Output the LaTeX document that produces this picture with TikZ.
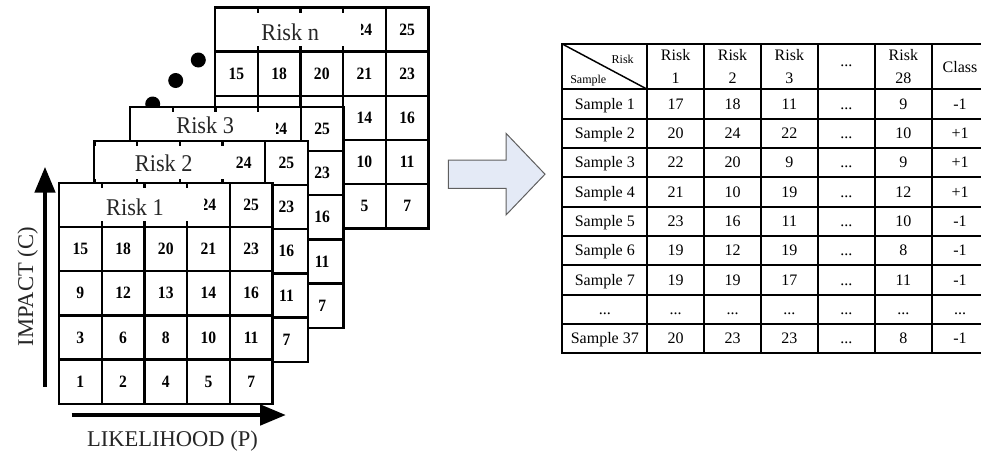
\documentclass[tikz,border=0pt]{standalone}
\usepackage{fontspec}
\usepackage{graphicx}
\setmainfont{Liberation Serif}
\usetikzlibrary{arrows.meta}

\definecolor{arrowfill}{RGB}{228,234,246}
\definecolor{arrowedge}{RGB}{95,95,95}

% cell size of the risk cards
\newcommand\mcw{42.7}
\newcommand\mch{44.2}
\newcommand\tdots{...}
% slightly condensed lettering used on the cards
\newcommand\narrow[2]{\scalebox{#1}[1]{#2}}

\tikzset{
  gridline/.style={line width=1.8pt, line cap=rect},
  cellnum/.style={font=\fontsize{13}{15}\selectfont\bfseries, inner sep=0pt},
  risklabel/.style={font=\fontsize{18}{21}\selectfont, text=black!85, inner sep=0pt, anchor=base},
  axislabel/.style={font=\fontsize{16.9}{20}\selectfont, text=black!85, inner sep=0pt, anchor=base},
  axisarrow/.style={line width=3.6pt, -{Triangle[length=19.5pt, width=15pt]}},
  stackdot/.style={circle, fill=black, inner sep=0pt, minimum size=11.25pt},
  blockarrow/.style={fill=arrowfill, draw=arrowedge, line width=0.75pt, line join=miter},
  tabline/.style={line width=1.4pt, line cap=rect},
  tabtext/.style={font=\fontsize{12}{17}\selectfont, inner sep=0pt, anchor=base},
  tabhead/.style={font=\fontsize{12}{17}\selectfont, inner sep=0pt, align=center},
  cornertext/.style={font=\fontsize{9}{10}\selectfont, inner sep=0pt, anchor=base},
}

% white card with a 5x5 grid, top-left corner (#1,#2)
\newcommand\riskcard[2]{%
  \fill[white] (#1,#2) rectangle ++({5*\mcw},{5*\mch});
  \foreach \ii in {0,...,5}{%
    \draw[gridline] ({#1+\ii*\mcw},#2) -- ++(0,{5*\mch});
    \draw[gridline] (#1,{#2+\ii*\mch}) -- ++({5*\mcw},0);
  }%
}
% cell values: prefix, left, top, list of row/column/value
\newcommand\riskcells[4]{%
  \foreach \rw/\cl/\vv in {#4}{%
    \node[cellnum] (#1-\rw-\cl) at ({#2+(\cl-0.5)*\mcw},{#3+(\rw-0.5)*\mch}) {\narrow{0.9}{\vv}};
  }%
}
% title strip over the top row: left, top, strip end, title x, title baseline, name, title
\newcommand\riskhead[7]{%
  \fill[white] ({#1+1},{#2+5.5}) rectangle (#3,{#2+\mch-5.5});
  \node[risklabel] (#6) at (#4,#5) {\narrow{0.93}{#7}};
}

\begin{document}
\begin{tikzpicture}[x=0.75pt,y=-0.75pt]
\useasboundingbox (0,0) rectangle (981,450);
\clip (0,0) rectangle (981,450);

% ---- stack of risk cards, back to front ----
\riskcard{215}{7.3}
\riskcells{rn}{215}{7.3}{1/4/24,1/5/25,2/1/15,2/2/18,2/3/20,2/4/21,2/5/23,3/4/14,3/5/16,4/4/10,4/5/11,5/4/5,5/5/7}
\riskhead{215}{7.3}{361}{290.2}{40}{labn}{Risk n}

\node[stackdot] (dot1) at (198.3,60) {};
\node[stackdot] (dot2) at (175.7,80.5) {};
\node[stackdot] (dot3) at (152.7,104) {};

\riskcard{130}{106.7}
\riskcells{r3}{130}{106.7}{1/4/24,1/5/25,2/5/23,3/5/16,4/5/11,5/5/7}
\riskhead{130}{106.7}{276}{205.2}{133.3}{lab3}{Risk 3}

\riskcard{94.3}{140.7}
\riskcells{r2}{94.3}{140.7}{1/4/24,1/5/25,2/5/23,3/5/16,4/5/11,5/5/7}
\riskhead{94.3}{140.7}{227}{163.8}{171.7}{lab2}{Risk 2}

\riskcard{59}{182.7}
\riskcells{r1}{59}{182.7}{1/4/24,1/5/25,2/1/15,2/2/18,2/3/20,2/4/21,2/5/23,3/1/9,3/2/12,3/3/13,3/4/14,3/5/16,4/1/3,4/2/6,4/3/8,4/4/10,4/5/11,5/1/1,5/2/2,5/3/4,5/4/5,5/5/7}
\riskhead{59}{182.7}{204}{135}{215.7}{lab1}{Risk 1}

% ---- axes ----
\coordinate (yfoot) at (45,386.7);
\coordinate (yhead) at (45,166.7);
\draw[axisarrow] (yfoot) -- (yhead);
\coordinate (xfoot) at (71.7,415);
\coordinate (xhead) at (286,415);
\draw[axisarrow] (xfoot) -- (xhead);
\node[axislabel, rotate=90] (ylab) at (33,286.7) {IMPACT (C)};
\node[axislabel] (xlab) at (172.5,446.7) {LIKELIHOOD (P)};

% ---- block arrow ----
\draw[blockarrow] (448.3,160) -- (506,160) -- (506,133.3) -- (545,174.2)
  -- (506,215) -- (506,188.3) -- (448.3,188.3) -- cycle;

% ---- sample table ----
\draw[tabline] (562.3,44) -- (990,44);
\foreach \k in {0,...,9}{%
  \draw[tabline] (562.3,{89.3+\k*29.33}) -- (990,{89.3+\k*29.33});
}
\foreach \xx in {562.3,647.3,704,761,817.7,875,931.7}{%
  \draw[tabline] (\xx,44) -- (\xx,353.3);
}
\coordinate (cornerA) at (562.3,44);
\coordinate (cornerB) at (647.3,89.3);
\draw[line width=1.1pt] (cornerA) -- (cornerB);
\node[cornertext] (hRisk) at (622.7,63.3) {Risk};
\node[cornertext] (hSample) at (588.3,83.3) {Sample};

\node[tabhead] (h1) at (675.65,66.7) {Risk\\1};
\node[tabhead] (h2) at (732.5,66.7) {Risk\\2};
\node[tabhead] (h3) at (789.35,66.7) {Risk\\3};
\node[tabtext] (h4) at (846.35,66.7) {\tdots};
\node[tabhead] (h5) at (903.35,66.7) {Risk\\28};
\node[tabhead] (h6) at (960.05,66.7) {Class};

\foreach \k/\sn/\va/\vb/\vc/\vd/\ve/\vf in {
  1/Sample 1/17/18/11/\tdots/9/-1,
  2/Sample 2/20/24/22/\tdots/10/+1,
  3/Sample 3/22/20/9/\tdots/9/+1,
  4/Sample 4/21/10/19/\tdots/12/+1,
  5/Sample 5/23/16/11/\tdots/10/-1,
  6/Sample 6/19/12/19/\tdots/8/-1,
  7/Sample 7/19/19/17/\tdots/11/-1,
  8/\tdots/\tdots/\tdots/\tdots/\tdots/\tdots/\tdots,
  9/Sample 37/20/23/23/\tdots/8/-1}{%
  \pgfmathsetmacro\yb{89.3+(\k-0.5)*29.33+5.3}
  \node[tabtext] (s\k) at (604.8,\yb) {\sn};
  \node[tabtext] (a\k) at (675.65,\yb) {\va};
  \node[tabtext] (b\k) at (732.5,\yb) {\vb};
  \node[tabtext] (c\k) at (789.35,\yb) {\vc};
  \node[tabtext] (d\k) at (846.35,\yb) {\vd};
  \node[tabtext] (e\k) at (903.35,\yb) {\ve};
  \node[tabtext] (f\k) at (960.05,\yb) {\vf};
}
\end{tikzpicture}
\end{document}
